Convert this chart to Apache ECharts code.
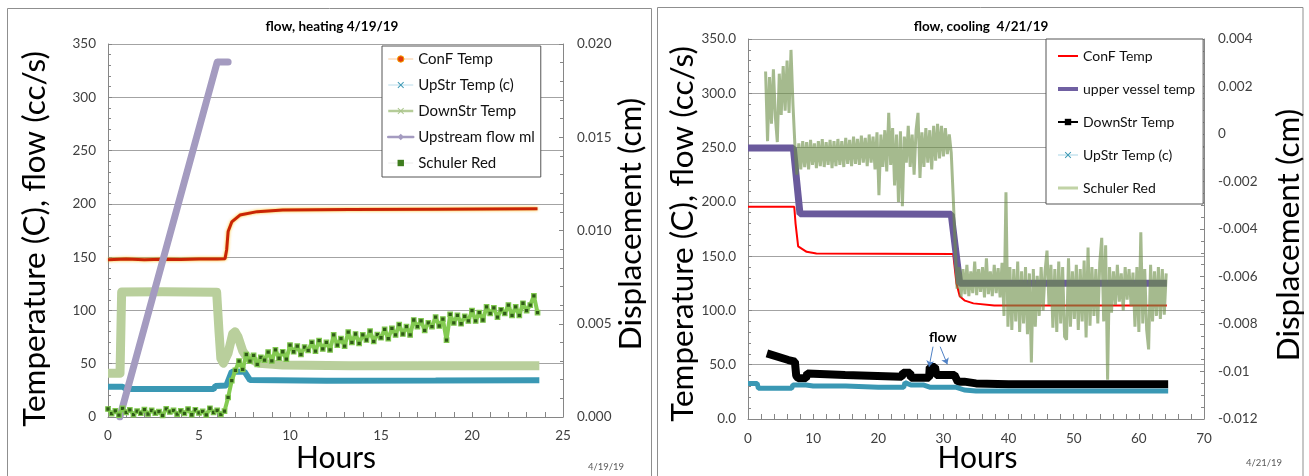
<!DOCTYPE html>
<html>
<head>
<meta charset="utf-8">
<script src="https://cdn.jsdelivr.net/npm/echarts@6/dist/echarts.min.js"></script>
<style>
  html, body { margin: 0; padding: 0; background: #fff; }
  #heat { position: absolute; left: 0; top: 0; width: 654px; height: 476px; }
  #cool { position: absolute; left: 654px; top: 0; width: 655px; height: 476px; }
</style>
</head>
<body>
<div id="heat"></div>
<div id="cool"></div>
<script>
// ---------- Heating run, 4/19/19 : [hours, value] ----------
const heatTitle = 'flow, heating 4/19/19';
const heatDate = '4/19/19';
const heatConfTemp = [[0,147.5],[1,148.2],[2,147.6],[3,148.1],[4,147.7],[5,148.2],[6,148.3],[6.43,148.6],[6.52,157],[6.6,174],[6.8,183],[7.25,189.5],[8.2,192.7],[9.6,194.2],[13.3,194.8],[18,195],[23.6,195.3]];
const heatUpStrTemp = [[0,28.4],[0.8,28.4],[1.0,26.2],[5.8,26.2],[5.9,29.0],[6.5,29.5],[6.8,42.5],[7.5,42.5],[7.8,34.7],[12,34.0],[18,34.2],[23.7,34.5]];
const heatDownStrTemp = [[0,41],[0.66,41],[0.75,117.3],[3,117.6],[5.97,117],[6.1,80],[6.2,55],[6.34,50.5],[6.6,60],[6.85,78],[6.98,80],[7.15,75],[7.4,62],[7.6,56.6],[8.3,50.4],[9.6,48.8],[13.3,48.1],[23.7,48]];
const heatUpstreamFlow = [[0.65,0],[6.0,333],[6.6,333]];
// displacement (cm), logged every 0.2 h from t = 0
const heatSchulerStartHr = 0;
const heatSchulerStepHr = 0.2;
const heatSchulerRed = [
  0.00043,0.00018,0.00033,0.00010,0.00046,0.00025,0.00038,0.00013,0.00031,0.00020,
  0.00040,0.00016,0.00036,0.00021,0.00029,0.00008,0.00044,0.00027,0.00035,0.00015,
  0.00033,0.00019,0.00042,0.00012,0.00039,0.00022,0.00030,0.00011,0.00047,0.00024,
  0.00036,0.00014,0.00031,0.00105,0.00195,0.00250,0.00300,0.00255,0.00335,0.00300,
  0.00330,0.00282,0.00320,0.00305,0.00348,0.00301,0.00360,0.00315,0.00350,0.00310,
  0.00385,0.00350,0.00380,0.00335,0.00375,0.00357,0.00400,0.00353,0.00410,0.00365,
  0.00400,0.00360,0.00440,0.00385,0.00420,0.00380,0.00455,0.00400,0.00445,0.00395,
  0.00440,0.00413,0.00460,0.00405,0.00442,0.00425,0.00470,0.00420,0.00475,0.00440,
  0.00495,0.00445,0.00485,0.00440,0.00520,0.00485,0.00515,0.00465,0.00505,0.00485,
  0.00535,0.00488,0.00525,0.00412,0.00550,0.00505,0.00545,0.00500,0.00540,0.00515,
  0.00570,0.00515,0.00560,0.00520,0.00590,0.00555,0.00585,0.00535,0.00575,0.00555,
  0.00600,0.00545,0.00590,0.00545,0.00610,0.00570,0.00600,0.00650,0.00560
];

// ---------- Cooling run, 4/21/19 : [hours, value] ----------
const coolTitle = 'flow, cooling  4/21/19';
const coolDate = '4/21/19';
const coolConfTemp = [[0,195.5],[7.1,195.5],[7.3,180],[7.7,159],[9.0,154],[10.5,152.5],[31.5,152],[32.0,125],[32.5,113],[33.3,109],[34.6,106.5],[37.8,104.5],[64.3,104.5]];
const coolUpperVesselTemp = [[0,249.6],[6.96,249.6],[7.98,189],[31.2,188.5],[32.5,125],[64.3,125]];
const coolDownStrTemp = [[2.9,60.5],[6.2,54.3],[7.2,52.8],[7.4,40],[7.7,37.5],[8.9,37.5],[9.1,42],[14.9,40.5],[23.6,39],[23.8,42.7],[24.9,42.7],[25.0,38],[27.8,38],[27.9,48],[28.7,48],[28.9,40.5],[31.7,40.5],[32.2,34.4],[33.2,34.4],[35,32.8],[40,32],[64.5,32]];
const coolUpStrTemp = [[0,32.8],[1.4,32.8],[1.6,28.3],[6.7,28.3],[6.9,31.3],[8.9,31.3],[10,30.4],[15,30.4],[20,29.2],[23.9,29.2],[24.1,33.5],[25,31.3],[27,31.3],[28,29.2],[32,29.2],[33.2,26.7],[35,25.8],[64.5,25.8]];
// displacement (cm), logged every 0.3 h from t = 2.7 h
const coolSchulerStartHr = 2.7;
const coolSchulerStepHr = 0.3;
const coolSchulerRed = [
  0.00263,-0.00030,0.00240,0.00043,0.00272,0.00071,-0.00034,0.00254,0.00080,0.00286,
  0.00098,0.00309,0.00089,0.00354,0.00126,-0.00048,-0.00171,-0.00039,-0.00149,-0.00030,
  -0.00139,-0.00034,-0.00149,-0.00025,-0.00130,-0.00039,-0.00144,-0.00030,-0.00135,-0.00021,
  -0.00139,-0.00034,-0.00130,-0.00025,-0.00144,-0.00030,-0.00135,-0.00021,-0.00130,-0.00030,
  -0.00139,-0.00016,-0.00126,-0.00025,-0.00135,-0.00011,-0.00126,-0.00021,-0.00130,-0.00007,
  -0.00121,-0.00016,-0.00135,-0.00002,-0.00121,-0.00011,-0.00149,0.00007,-0.00258,-0.00002,
  -0.00139,0.00016,-0.00158,0.00089,-0.00130,0.00025,-0.00217,-0.00002,-0.00286,0.00011,
  -0.00304,-0.00011,-0.00121,0.00034,-0.00139,-0.00002,-0.00171,0.00016,0.00089,-0.00185,
  0.00007,-0.00139,0.00025,-0.00121,0.00016,-0.00149,0.00034,-0.00112,0.00043,-0.00103,
  0.00034,-0.00094,0.00025,-0.00085,-0.00002,-0.00080,-0.00263,-0.00469,-0.00651,-0.00560,
  -0.00688,-0.00569,-0.00674,-0.00551,-0.00683,-0.00578,-0.00670,-0.00537,-0.00679,-0.00569,
  -0.00665,-0.00560,-0.00688,-0.00523,-0.00674,-0.00578,-0.00683,-0.00551,-0.00670,-0.00565,
  -0.00688,-0.00542,-0.00766,-0.00245,-0.00811,-0.00560,-0.00825,-0.00569,-0.00789,-0.00537,
  -0.00834,-0.00578,-0.00798,-0.00560,-0.00843,-0.00587,-0.00962,-0.00569,-0.00811,-0.00597,
  -0.00766,-0.00560,-0.00743,-0.00578,-0.00491,-0.00720,-0.00551,-0.00816,-0.00569,-0.00834,
  -0.00537,-0.00798,-0.00560,-0.00853,-0.00866,-0.00523,-0.00811,-0.00578,-0.00779,-0.00551,
  -0.00825,-0.00569,-0.00789,-0.00533,-0.00857,-0.00478,-0.00807,-0.00560,-0.00766,-0.00569,
  -0.00798,-0.00542,-0.00437,-0.00789,-0.00469,-0.01035,-0.00560,-0.00752,-0.00578,-0.00720,
  -0.00551,-0.00706,-0.00587,-0.00743,-0.00560,-0.00697,-0.00569,-0.00725,-0.00583,-0.00811,
  -0.00560,-0.00834,-0.00414,-0.00798,-0.00569,-0.00825,-0.00907,-0.00551,-0.00789,-0.00578,
  -0.00766,-0.00560,-0.00779,-0.00569,-0.00761,-0.00587
];
const flowNote = 'flow';

// ---------- shared styling ----------
const FONT = 'Lato, "Open Sans", "DejaVu Sans", sans-serif';
const AXIS_GREY = '#868686';
const GRID_GREY = '#a3a3a3';
const LABEL_GREY = '#404040';
const X_MARK = 'path://M0,1L1,0L5,4L9,0L10,1L6,5L10,9L9,10L5,6L1,10L0,9L4,5Z';

function sampled(start, step, values) {
  return values.map((v, i) => [+(start + i * step).toFixed(2), v]);
}

function valueAxis(extra) {
  return Object.assign({
    type: 'value',
    axisLine: { show: true, lineStyle: { color: AXIS_GREY, width: 1 } },
    axisTick: { show: true, inside: true, length: 4, lineStyle: { color: AXIS_GREY } },
    minorTick: { show: true, splitNumber: 5, length: 3, lineStyle: { color: AXIS_GREY } },
    minorSplitLine: { show: false },
    splitLine: { show: false },
    axisLabel: { color: LABEL_GREY, fontFamily: FONT, fontSize: 13.5, margin: 12 }
  }, extra);
}

function textEl(text, x, y, size, opts) {
  return Object.assign({
    type: 'text', x: x, y: y, silent: true,
    style: Object.assign({
      text: text, fontFamily: FONT, fontSize: size, fill: '#000',
      align: 'center', verticalAlign: 'middle'
    }, (opts && opts.style) || {})
  }, opts && opts.rotation ? { rotation: opts.rotation } : {});
}

// ================= heating chart =================
const heatChart = echarts.init(document.getElementById('heat'), null, { renderer: 'canvas' });
heatChart.setOption({
  animation: false,
  backgroundColor: '#fff',
  grid: { left: 108, top: 44, width: 455, height: 373, outerBoundsMode: 'none' },
  xAxis: valueAxis({
    min: 0, max: 25, interval: 5,
    axisTick: { show: true, inside: true, length: 5, lineStyle: { color: AXIS_GREY } },
    minorTick: { show: true, splitNumber: 5, length: 5, lineStyle: { color: AXIS_GREY } },
    axisLabel: { color: LABEL_GREY, fontFamily: FONT, fontSize: 13.5, margin: 12 }
  }),
  yAxis: [
    valueAxis({
      min: 0, max: 350, interval: 50,
      splitLine: { show: true, lineStyle: { color: GRID_GREY, width: 1 } }
    }),
    valueAxis({
      position: 'right', min: 0, max: 0.02, interval: 0.005,
      axisLabel: { color: LABEL_GREY, fontFamily: FONT, fontSize: 13.5, margin: 14,
                   formatter: v => v.toFixed(3) }
    })
  ],
  legend: {
    orient: 'vertical', left: 382, top: 46,
    padding: [5, 6, 6, 5], itemWidth: 25, itemHeight: 8, itemGap: 10,
    backgroundColor: '#fff', borderColor: '#555', borderWidth: 1, borderRadius: 0,
    selectedMode: false,
    textStyle: { fontFamily: FONT, fontSize: 15, color: '#111', lineHeight: 16 },
    data: [
      { name: 'ConF Temp', lineStyle: { color: '#f8c99a', width: 1 }, itemStyle: { color: '#e23a0c', borderColor: '#f5a300', borderWidth: 1 } },
      { name: 'UpStr Temp (c)', lineStyle: { color: '#b9dcea', width: 1 }, itemStyle: { color: '#3a98b4', borderWidth: 0 } },
      { name: 'DownStr Temp', lineStyle: { color: '#b5cc98', width: 2.5 }, itemStyle: { color: '#a9c48b', borderWidth: 0 } },
      { name: 'Upstream flow ml', lineStyle: { color: '#a49bc0', width: 2.5 }, itemStyle: { color: '#a49bc0', borderWidth: 0 } },
      { name: 'Schuler Red', lineStyle: { color: '#ececec', width: 1 }, itemStyle: { color: '#3f7d1e', borderWidth: 0 } }
    ]
  },
  series: [
    { name: 'ConF Temp', type: 'line', data: heatConfTemp, symbol: 'circle', showSymbol: false,
      lineStyle: { color: '#c92405', width: 3, shadowColor: 'rgba(250,185,0,0.9)', shadowBlur: 3 } },
    { name: 'UpStr Temp (c)', type: 'line', data: heatUpStrTemp, symbol: X_MARK, showSymbol: false,
      lineStyle: { color: '#3a98b4', width: 6 } },
    { name: 'DownStr Temp', type: 'line', data: heatDownStrTemp, symbol: X_MARK, showSymbol: false,
      lineStyle: { color: '#b9cf9c', width: 9, join: 'round' } },
    { name: 'Upstream flow ml', type: 'line', data: heatUpstreamFlow, symbol: 'diamond', showSymbol: false,
      lineStyle: { color: '#a49bc0', width: 7, cap: 'round', join: 'round' } },
    { name: 'Schuler Red', type: 'line', yAxisIndex: 1,
      data: sampled(heatSchulerStartHr, heatSchulerStepHr, heatSchulerRed),
      symbol: 'rect', symbolSize: 4.5, showSymbol: true,
      itemStyle: { color: '#2f5a17', borderColor: '#80c84f', borderWidth: 1.2 },
      lineStyle: { color: '#84cb52', width: 4 } }
  ],
  graphic: [
    { type: 'rect', silent: true, shape: { x: 7.5, y: 8.5, width: 644, height: 480 },
      style: { fill: 'none', stroke: '#8f8f8f', lineWidth: 1 } },
    textEl(heatTitle, 332, 27, 13.5, { style: { fontWeight: 'bold' } }),
    textEl('Temperature (C), flow (cc/s)', 35, 239, 31.5, { rotation: Math.PI / 2 }),
    textEl('Displacement (cm)', 631, 224, 31.5, { rotation: Math.PI / 2 }),
    textEl('Hours', 336, 458, 30),
    textEl(heatDate, 606, 467, 9.5, { style: { fill: '#595959' } })
  ]
});

// ================= cooling chart =================
const coolChart = echarts.init(document.getElementById('cool'), null, { renderer: 'canvas' });
coolChart.setOption({
  animation: false,
  backgroundColor: '#fff',
  grid: { left: 94, top: 39, width: 456, height: 380, outerBoundsMode: 'none' },
  xAxis: valueAxis({
    min: 0, max: 70, interval: 10,
    axisTick: { show: true, inside: true, length: 5, lineStyle: { color: AXIS_GREY } },
    minorTick: { show: true, splitNumber: 5, length: 5, lineStyle: { color: AXIS_GREY } },
    axisLabel: { color: LABEL_GREY, fontFamily: FONT, fontSize: 13.5, margin: 13 }
  }),
  yAxis: [
    valueAxis({
      min: 0, max: 350, interval: 50,
      splitLine: { show: true, lineStyle: { color: GRID_GREY, width: 1 } },
      axisLabel: { color: LABEL_GREY, fontFamily: FONT, fontSize: 13.5, margin: 12,
                   formatter: v => v.toFixed(1) }
    }),
    valueAxis({
      position: 'right', min: -0.012, max: 0.004, interval: 0.002,
      minorTick: { show: true, splitNumber: 4, length: 3, lineStyle: { color: AXIS_GREY } },
      axisLabel: { color: LABEL_GREY, fontFamily: FONT, fontSize: 13.5, margin: 14,
                   formatter: v => String(parseFloat(v.toFixed(3))) }
    })
  ],
  legend: {
    orient: 'vertical', left: 392, top: 39,
    padding: [9, 8, 8, 10], itemWidth: 20, itemHeight: 8, itemGap: 17,
    backgroundColor: '#fff', borderColor: '#555', borderWidth: 1, borderRadius: 0,
    selectedMode: false,
    textStyle: { fontFamily: FONT, fontSize: 14, color: '#111', lineHeight: 16 },
    data: [
      { name: 'ConF Temp', lineStyle: { color: '#ff0000', width: 2 }, itemStyle: { opacity: 0 } },
      { name: 'upper vessel temp', lineStyle: { color: '#7060a2', width: 4 }, itemStyle: { opacity: 0 } },
      { name: 'DownStr Temp', lineStyle: { color: '#000', width: 2 }, itemStyle: { color: '#000', borderWidth: 0 } },
      { name: 'UpStr Temp (c)', lineStyle: { color: '#a9d5e6', width: 1 }, itemStyle: { color: '#3a98b4', borderWidth: 0 } },
      { name: 'Schuler Red', lineStyle: { color: '#9bb86f', width: 3 }, itemStyle: { opacity: 0 } }
    ]
  },
  series: [
    { name: 'ConF Temp', type: 'line', data: coolConfTemp, showSymbol: false,
      lineStyle: { color: '#ff0000', width: 2 } },
    { name: 'upper vessel temp', type: 'line', data: coolUpperVesselTemp, showSymbol: false,
      lineStyle: { color: '#6a5a9c', width: 7 } },
    { name: 'DownStr Temp', type: 'line', data: coolDownStrTemp, symbol: 'rect', showSymbol: false,
      lineStyle: { color: '#000', width: 8 },
      markLine: {
        silent: true, animation: false, symbol: ['none', 'arrow'], symbolSize: 6,
        label: { show: false },
        lineStyle: { color: '#4f81c5', width: 1, type: 'solid' },
        data: [
          [{ coord: [28.4, 66.6] }, { coord: [27.8, 48.2] }],
          [{ coord: [29.5, 66.6] }, { coord: [30.6, 50.4] }]
        ]
      } },
    { name: 'UpStr Temp (c)', type: 'line', data: coolUpStrTemp, symbol: X_MARK, showSymbol: false,
      lineStyle: { color: '#3a98b4', width: 5 } },
    { name: 'Schuler Red', type: 'line', yAxisIndex: 1,
      data: sampled(coolSchulerStartHr, coolSchulerStepHr, coolSchulerRed),
      showSymbol: false,
      lineStyle: { color: '#6e8f48', width: 3, opacity: 0.62, join: 'bevel' } }
  ],
  graphic: [
    { type: 'rect', silent: true, shape: { x: 3.5, y: 7.5, width: 645.5, height: 480 },
      style: { fill: 'none', stroke: '#8f8f8f', lineWidth: 1 } },
    textEl(coolTitle, 327, 27, 13.5, { style: { fontWeight: 'bold' } }),
    textEl('Temperature (C), flow (cc/s)', 29, 234, 31.5, { rotation: Math.PI / 2 }),
    textEl('Displacement (cm)', 635, 235, 31.5, { rotation: Math.PI / 2 }),
    textEl('Hours', 323.5, 458, 30),
    textEl(coolDate, 610, 463, 9.5, { style: { fill: '#595959' } })
  ]
});

// "flow" note placed at its data position above the DownStr trace
const notePos = coolChart.convertToPixel({ xAxisIndex: 0, yAxisIndex: 0 }, [29.9, 75.5]);
coolChart.setOption({
  graphic: { elements: [
    Object.assign({ id: 'flowNote' }, textEl(flowNote, notePos[0], notePos[1], 14, { style: { fontWeight: 'bold' } }))
  ] }
});
</script>
</body>
</html>
